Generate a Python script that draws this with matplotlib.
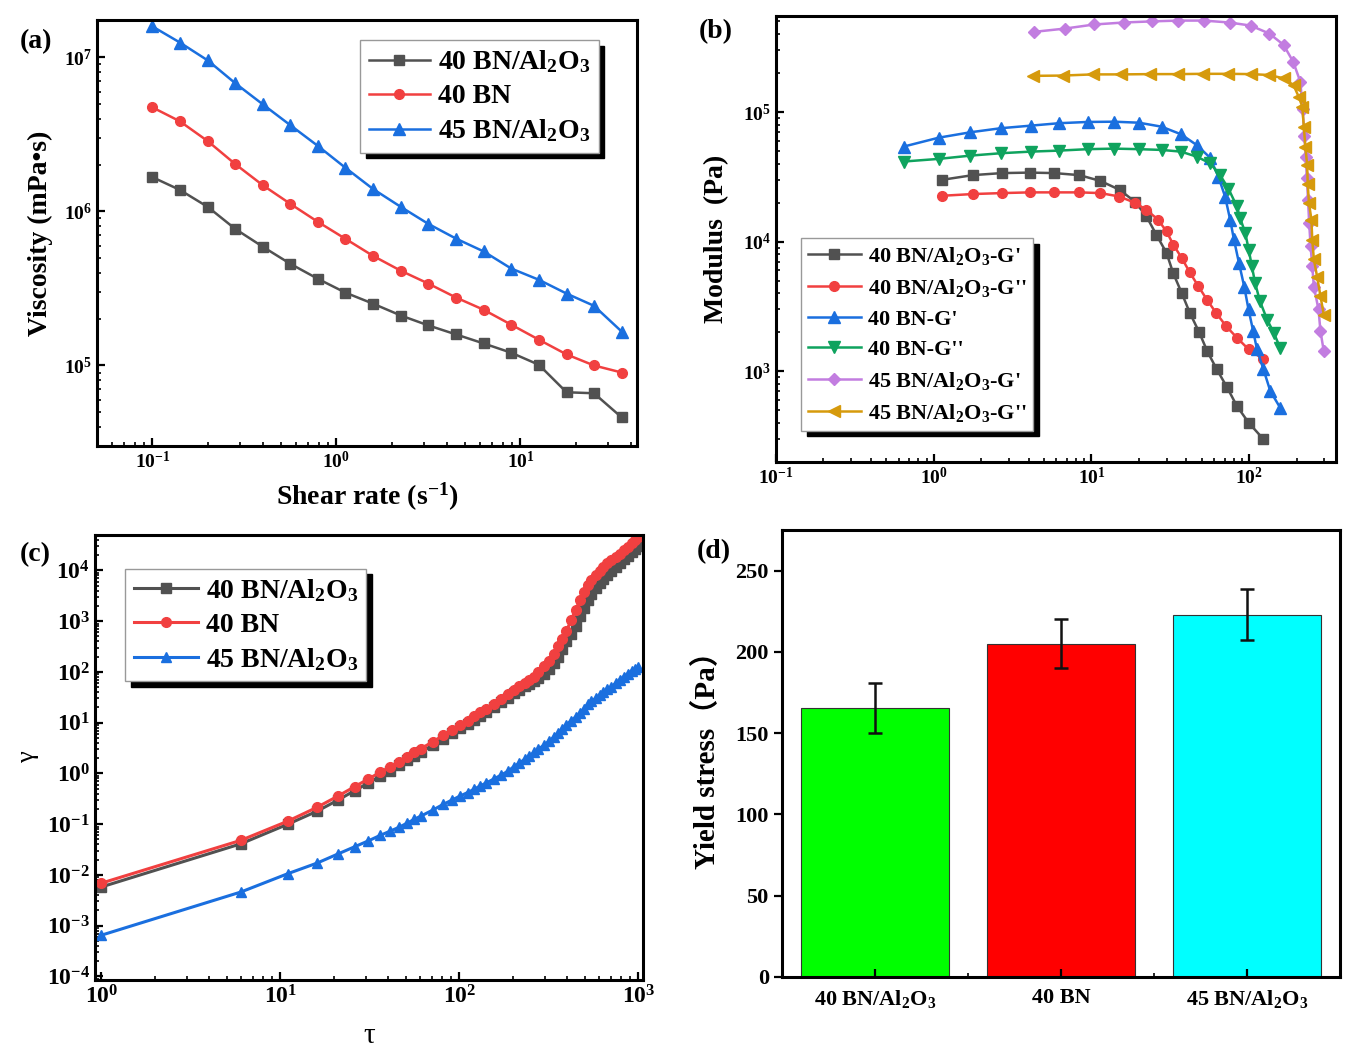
import numpy as np
import matplotlib
matplotlib.use('Agg')
import matplotlib.pyplot as plt
from matplotlib.ticker import LogLocator, NullFormatter

# ---- (a) viscosity vs shear rate ----
shear_rate = [0.1, 0.141, 0.2, 0.282, 0.398, 0.562, 0.794, 1.12, 1.58, 2.24,
              3.16, 4.47, 6.31, 8.91, 12.6, 17.8, 25.1, 35.5]
visc_40_bnal = [1.67e6, 1.38e6, 1.07e6, 7.7e5, 5.9e5, 4.57e5, 3.65e5, 2.97e5, 2.52e5, 2.11e5,
                1.82e5, 1.59e5, 1.39e5, 1.21e5, 1.01e5, 6.7e4, 6.6e4, 4.6e4]
visc_40_bn = [4.74e6, 3.85e6, 2.86e6, 2.03e6, 1.48e6, 1.12e6, 8.55e5, 6.64e5, 5.15e5, 4.12e5,
              3.4e5, 2.76e5, 2.3e5, 1.84e5, 1.47e5, 1.18e5, 1.0e5, 9.0e4]
visc_45_bnal = [1.59e7, 1.25e7, 9.56e6, 6.8e6, 4.96e6, 3.63e6, 2.66e6, 1.92e6, 1.40e6, 1.07e6,
                8.3e5, 6.66e5, 5.5e5, 4.26e5, 3.6e5, 2.93e5, 2.44e5, 1.66e5]

# ---- (b) modulus ----
b_40al_g1_x = [1.13, 1.77, 2.70, 4.07, 5.81, 8.39, 11.4, 15.1, 18.8, 22.3, 25.8, 29.9, 33.0,
               37.3, 42.0, 48.2, 54.2, 62.2, 72.0, 83.5, 99.0, 123]
b_40al_g1_y = [3.0e4, 3.26e4, 3.38e4, 3.41e4, 3.38e4, 3.26e4, 2.94e4, 2.51e4, 2.04e4, 1.57e4,
               1.13e4, 8.2e3, 5.7e3, 4.03e3, 2.83e3, 2.0e3, 1.43e3, 1.04e3, 762, 541, 403, 300]
b_40al_g2_x = [1.13, 1.77, 2.70, 4.07, 5.81, 8.39, 11.4, 15.0, 18.8, 22.3, 26.4, 29.9, 33.0,
               37.3, 42.0, 47.6, 53.9, 61.7, 71.4, 83.5, 99.0, 123]
b_40al_g2_y = [2.26e4, 2.33e4, 2.37e4, 2.4e4, 2.4e4, 2.4e4, 2.37e4, 2.23e4, 2.0e4, 1.76e4,
               1.48e4, 1.2e4, 9.5e3, 7.5e3, 5.8e3, 4.53e3, 3.58e3, 2.82e3, 2.23e3, 1.82e3,
               1.48e3, 1.24e3]
b_40bn_g1_x = [0.644, 1.076, 1.71, 2.66, 4.13, 6.25, 9.47, 13.9, 20.0, 27.8, 36.9, 46.4, 56.4,
               63.7, 70.3, 75.7, 80, 86, 93, 99, 106, 112, 123, 136, 157]
b_40bn_g1_y = [5.41e4, 6.34e4, 6.98e4, 7.5e4, 7.85e4, 8.2e4, 8.38e4, 8.42e4, 8.27e4, 7.71e4,
               6.74e4, 5.57e4, 4.45e4, 3.18e4, 2.23e4, 1.48e4, 1.04e4, 6.9e3, 4.5e3, 3.0e3,
               2.04e3, 1.48e3, 1.04e3, 706, 525]
b_40bn_g2_x = [0.644, 1.076, 1.71, 2.66, 4.13, 6.25, 9.47, 13.9, 20.0, 27.8, 36.9, 46.4, 56.4,
               65.3, 73.8, 83.5, 87.7, 94.4, 99.2, 104, 109, 117, 130, 143, 157]
b_40bn_g2_y = [4.15e4, 4.35e4, 4.61e4, 4.81e4, 4.95e4, 5.04e4, 5.17e4, 5.22e4, 5.17e4, 5.1e4,
               4.95e4, 4.53e4, 4.03e4, 3.27e4, 2.57e4, 1.87e4, 1.51e4, 1.17e4, 8.7e3, 6.45e3,
               4.8e3, 3.47e3, 2.5e3, 1.99e3, 1.52e3]
b_45al_g1_x = [4.33, 6.8, 10.4, 16.0, 24.2, 35.5, 51.7, 75, 102, 134, 165, 190, 211, 218, 224,
               228, 232, 236, 240, 245, 251, 257, 275, 283, 297]
b_45al_g1_y = [4.15e5, 4.4e5, 4.73e5, 4.9e5, 5.0e5, 5.07e5, 5.07e5, 4.9e5, 4.64e5, 4.03e5,
               3.3e5, 2.44e5, 1.71e5, 1.05e5, 6.5e4, 4.5e4, 3.1e4, 2.1e4, 1.4e4, 9.2e3,
               6.5e3, 4.5e3, 3.0e3, 2.04e3, 1.43e3]
b_45al_g2_x = [4.23, 6.56, 10.2, 15.5, 23.6, 35.2, 51.2, 73.8, 102.5, 133, 165, 191, 206, 217,
               222, 227, 233, 235, 239, 248, 251, 257, 270, 283, 297]
b_45al_g2_y = [1.9e5, 1.91e5, 1.95e5, 1.95e5, 1.96e5, 1.96e5, 1.97e5, 1.97e5, 1.96e5, 1.93e5,
               1.82e5, 1.61e5, 1.31e5, 1.1e5, 7.7e4, 5.4e4, 3.9e4, 2.8e4, 2.0e4, 1.48e4,
               1.03e4, 7.3e3, 5.3e3, 3.8e3, 2.74e3]

# ---- (c) strain vs stress ----
tau = [1, 6, 11, 16, 21, 26, 31, 36, 41, 46, 51, 56, 61, 71, 81, 91, 101, 111, 121, 131, 141,
       156, 171, 186, 201, 216, 231, 246, 261, 276, 296, 316, 336, 356, 376, 396, 421, 446,
       471, 496, 521, 546, 576, 606, 636, 671, 706, 746, 786, 826, 871, 916, 961, 996]
gam_40_bnal = [0.0058, 0.041, 0.10, 0.18, 0.30, 0.46, 0.65, 0.88, 1.14, 1.45, 1.8, 2.2, 2.65,
               3.6, 4.8, 6.2, 7.8, 9.5, 11.5, 13.8, 16.3, 20.5, 25.5, 31, 38, 45, 52, 59, 67,
               76, 92, 115, 150, 200, 280, 400, 560, 800, 1250, 1850, 2600, 3400, 4500, 5600,
               6800, 8300, 9800, 11800, 14000, 16500, 19500, 23000, 27000, 31000]
gam_40_bn = [0.0069, 0.048, 0.115, 0.215, 0.36, 0.55, 0.78, 1.05, 1.35, 1.7, 2.1, 2.6, 3.1,
             4.2, 5.6, 7.2, 9.0, 11, 13.3, 16, 18.8, 23.5, 29, 36, 44, 52, 60, 68, 78, 100,
             130, 165, 230, 320, 450, 650, 1050, 1700, 2600, 3700, 5200, 6500, 8000, 9700,
             11500, 13800, 16000, 18500, 21500, 25000, 29000, 34000, 40000, 46000]
gam_45_bnal = [6.5e-4, 4.6e-3, 0.0106, 0.0171, 0.026, 0.036, 0.047, 0.06, 0.073, 0.087, 0.105,
               0.125, 0.145, 0.19, 0.245, 0.30, 0.36, 0.42, 0.49, 0.57, 0.65, 0.78, 0.93, 1.1,
               1.35, 1.6, 1.9, 2.2, 2.6, 3.0, 3.6, 4.3, 5.2, 6.3, 7.6, 9.0, 11, 13, 15.5, 19,
               23, 27, 30, 35, 41, 46, 51, 60, 70, 80, 92, 105, 115, 125]

# ---- (d) yield stress ----
samples = ['40 BN/Al$_2$O$_3$', '40 BN', '45 BN/Al$_2$O$_3$']
yield_stress = [165.5, 205, 223]
yield_err = [15.5, 15, 15.5]

lbl_40al = '40 BN/Al$_2$O$_3$'
lbl_40 = '40 BN'
lbl_45al = '45 BN/Al$_2$O$_3$'

c_black = '#515151'
c_red = '#F14040'
c_blue = '#1A6FDF'
c_green = '#0FA35E'
c_purple = '#C27DE0'
c_orange = '#D69A0C'

plt.rcParams['font.family'] = ['Liberation Serif', 'Noto Sans CJK SC']
plt.rcParams['font.weight'] = 'bold'
plt.rcParams['axes.labelweight'] = 'bold'
plt.rcParams['mathtext.fontset'] = 'custom'
plt.rcParams['mathtext.rm'] = 'Liberation Serif:bold'
plt.rcParams['mathtext.bf'] = 'Liberation Serif:bold'
plt.rcParams['mathtext.it'] = 'Liberation Serif:italic:bold'
plt.rcParams['axes.linewidth'] = 2.2
plt.rcParams['xtick.direction'] = 'in'
plt.rcParams['ytick.direction'] = 'in'
plt.rcParams['xtick.major.width'] = 1.6
plt.rcParams['ytick.major.width'] = 1.6
plt.rcParams['xtick.minor.width'] = 1.2
plt.rcParams['ytick.minor.width'] = 1.2
plt.rcParams['xtick.major.size'] = 6
plt.rcParams['ytick.major.size'] = 6
plt.rcParams['xtick.minor.size'] = 3
plt.rcParams['ytick.minor.size'] = 3

shadow = {'ox': 4, 'oy': -4, 'color': 'k', 'alpha': 1}

fig = plt.figure(figsize=(13.52, 10.64), dpi=100)
W, H = 1352, 1064


def box(l, t, r, b):
    return [l / W, 1 - b / H, (r - l) / W, (b - t) / H]


def log_minor(ax):
    for axis in (ax.xaxis, ax.yaxis):
        axis.set_minor_locator(LogLocator(base=10, subs=np.arange(2, 10), numticks=30))
        axis.set_minor_formatter(NullFormatter())


# (a)
ax1 = fig.add_axes(box(97, 20, 637, 446))
ax1.plot(shear_rate, visc_40_bnal, '-s', color=c_black, lw=1.8, ms=7, label=lbl_40al)
ax1.plot(shear_rate, visc_40_bn, '-o', color=c_red, lw=1.8, ms=7, label=lbl_40)
ax1.plot(shear_rate, visc_45_bnal, '-^', color=c_blue, lw=1.8, ms=8, label=lbl_45al)
ax1.set_xscale('log')
ax1.set_yscale('log')
ax1.set_xlim(0.05, 43)
ax1.set_ylim(3.0e4, 1.75e7)
log_minor(ax1)
ax1.tick_params(labelsize=14)
ax1.set_ylabel('Viscosity (mPa•s)', fontsize=20, labelpad=8)
ax1.set_xlabel('Shear rate (s$^{-1}$)', fontsize=20, labelpad=6)
ax1.legend(loc='upper right', bbox_to_anchor=(0.955, 0.985), fontsize=20, frameon=True,
           fancybox=False, edgecolor='0.6', shadow=shadow, handlelength=2.2,
           handletextpad=0.3, borderpad=0.3, labelspacing=0.3)

# (b)
ax2 = fig.add_axes(box(776, 16, 1336, 462))
ax2.plot(b_40al_g1_x, b_40al_g1_y, '-s', color=c_black, lw=1.8, ms=7,
         label=lbl_40al + "-G'")
ax2.plot(b_40al_g2_x, b_40al_g2_y, '-o', color=c_red, lw=1.8, ms=7,
         label=lbl_40al + "-G''")
ax2.plot(b_40bn_g1_x, b_40bn_g1_y, '-^', color=c_blue, lw=1.8, ms=8, label="40 BN-G'")
ax2.plot(b_40bn_g2_x, b_40bn_g2_y, '-v', color=c_green, lw=1.8, ms=8, label="40 BN-G''")
ax2.plot(b_45al_g1_x, b_45al_g1_y, '-D', color=c_purple, lw=1.8, ms=6.5,
         label=lbl_45al + "-G'")
ax2.plot(b_45al_g2_x, b_45al_g2_y, '-<', color=c_orange, lw=1.8, ms=8,
         label=lbl_45al + "-G''")
ax2.set_xscale('log')
ax2.set_yscale('log')
ax2.set_xlim(0.1, 355)
ax2.set_ylim(200, 5.5e5)
log_minor(ax2)
ax2.tick_params(labelsize=14)
ax2.set_ylabel('Modulus  (Pa)', fontsize=20, labelpad=10)
ax2.legend(loc='lower left', bbox_to_anchor=(0.025, 0.045), fontsize=16, frameon=True,
           fancybox=False, edgecolor='0.6', shadow=shadow, handlelength=2.4,
           handletextpad=0.3, borderpad=0.3, labelspacing=0.45)

# (c)
ax3 = fig.add_axes(box(95, 535, 643, 980))
ax3.plot(tau, gam_40_bnal, '-s', color=c_black, lw=2.2, ms=7, label=lbl_40al)
ax3.plot(tau, gam_40_bn, '-o', color=c_red, lw=2.2, ms=7, label=lbl_40)
ax3.plot(tau, gam_45_bnal, '-^', color=c_blue, lw=2.2, ms=7.5, label=lbl_45al)
ax3.set_xscale('log')
ax3.set_yscale('log')
ax3.set_xlim(0.92, 1060)
ax3.set_ylim(8.5e-5, 5e4)
ax3.yaxis.set_major_locator(LogLocator(base=10, numticks=20))
log_minor(ax3)
ax3.tick_params(labelsize=17)
ax3.set_ylabel('γ', fontsize=19, fontweight='normal', labelpad=6)
ax3.set_xlabel('τ', fontsize=21, fontweight='normal', labelpad=11)
ax3.legend(loc='upper left', bbox_to_anchor=(0.03, 0.955), fontsize=20, frameon=True,
           fancybox=False, edgecolor='0.6', shadow=shadow, handlelength=2.3,
           handletextpad=0.3, borderpad=0.3, labelspacing=0.3)

# (d)
ax4 = fig.add_axes(box(782, 530, 1340, 977))
xpos = np.arange(len(samples))
ax4.bar(xpos, yield_stress, width=0.8, color=['#00FF00', '#FF0000', '#00FFFF'],
        edgecolor='#333333', linewidth=0.8)
ax4.errorbar(xpos, yield_stress, yerr=yield_err, fmt='none', ecolor='#111111',
             elinewidth=1.8, capsize=5, capthick=1.8)
ax4.set_xlim(-0.5, 2.5)
ax4.set_ylim(0, 275)
ax4.set_xticks(xpos)
ax4.set_xticklabels(samples)
ax4.set_xticks([0.5, 1.5], minor=True)
ax4.set_yticks([0, 50, 100, 150, 200, 250])
ax4.tick_params(axis='y', direction='out', labelsize=16)
ax4.tick_params(axis='x', labelsize=16, pad=8)
ax4.tick_params(axis='x', which='minor', length=3)
ax4.set_ylabel('Yield stress（Pa）', fontsize=21, labelpad=10)

for letter, px, py in [('(a)', 20, 42), ('(b)', 699, 32), ('(c)', 20, 555), ('(d)', 697, 552)]:
    fig.text(px / W, 1 - py / H, letter, fontsize=20, va='center', ha='left')

fig.savefig('out.png', dpi=100, facecolor='white')
